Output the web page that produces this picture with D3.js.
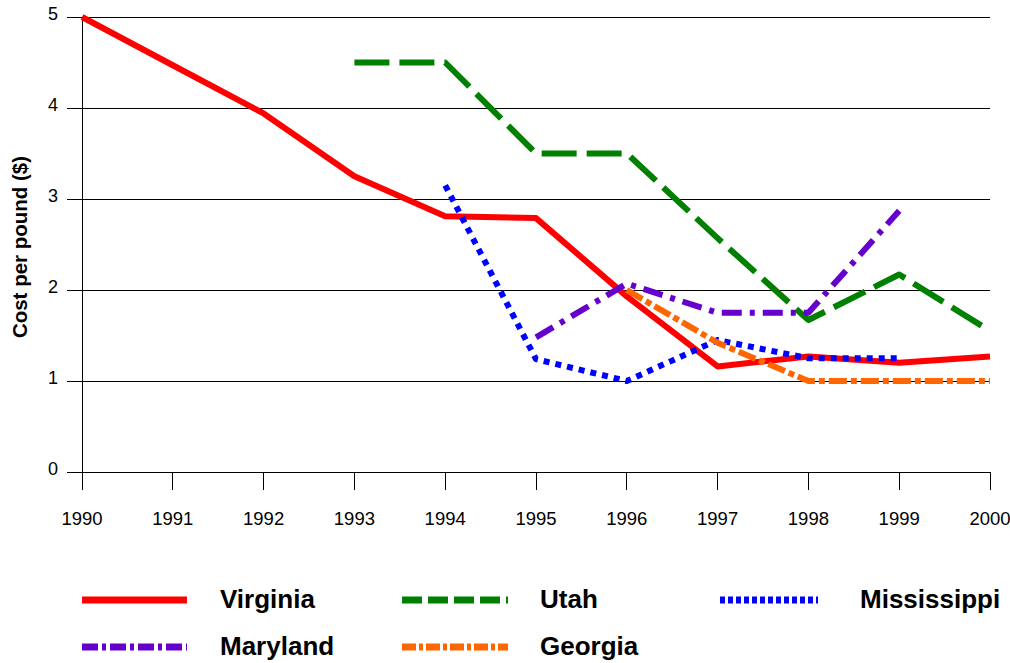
<!DOCTYPE html>
<html>
<head>
<meta charset="utf-8">
<script src="https://cdn.jsdelivr.net/npm/d3@7"></script>
<style>
  body { margin: 0; background: #fff; }
  text { font-family: Arial, "Liberation Sans", sans-serif; }
</style>
</head>
<body>
<svg id="chart" width="1010" height="663"></svg>
<script>
const years = [1990, 1991, 1992, 1993, 1994, 1995, 1996, 1997, 1998, 1999, 2000]
const yTicks = [0, 1, 2, 3, 4, 5]

const virginia = [5.0, 4.47, 3.94, 3.25, 2.81, 2.79, 1.93, 1.16, 1.27, 1.2, 1.27]
const utah = [null, null, null, 4.5, 4.5, 3.5, 3.5, 2.57, 1.67, 2.17, 1.55]
const mississippi = [null, null, null, null, 3.15, 1.24, 1.0, 1.45, 1.25, 1.25, null]
const maryland = [null, null, null, null, null, 1.48, 2.07, 1.75, 1.75, 2.87, null]
const georgia = [null, null, null, null, null, null, 2.0, 1.42, 1.0, 1.0, 1.0]

const seriesNames = ['Virginia', 'Utah', 'Mississippi', 'Maryland', 'Georgia']
const seriesValues = [virginia, utah, mississippi, maryland, georgia]
const seriesColors = ['#ff0000', '#008000', '#0000ff', '#6600cc', '#ff6600']
const seriesDash = [null, '35,10', '6,6', '20,8,5,8', '18,4,6,4']
const legendDash = [null, '20,6', '5,3', '16,4,4,4', '14,3,4,3']

const margin = {top: 17, right: 20, bottom: 191, left: 82}
const w = 990 - margin.left
const h = 472 - margin.top

const svg = d3.select('#chart')
const g = svg.append('g')
    .attr('transform', `translate(${margin.left}, ${margin.top})`)

const x = d3.scaleLinear().domain([1990, 2000]).range([0, w])
const y = d3.scaleLinear().domain([0, 5]).range([h, 0])

// gridlines + y ticks
g.selectAll('.grid')
    .data(yTicks)
    .enter()
    .append('line')
    .attr('x1', -15)
    .attr('x2', w)
    .attr('y1', d => y(d))
    .attr('y2', d => y(d))
    .attr('stroke', '#000')
    .attr('stroke-width', 1)
    .attr('shape-rendering', 'crispEdges')

g.selectAll('.ylab')
    .data(yTicks)
    .enter()
    .append('text')
    .attr('x', -24)
    .attr('y', d => y(d) + 3)
    .attr('text-anchor', 'end')
    .style('font-size', '18px')
    .text(d => d)

g.append('line')
    .attr('x1', 0).attr('x2', 0)
    .attr('y1', 0).attr('y2', h)
    .attr('stroke', '#000')
    .attr('shape-rendering', 'crispEdges')

// x ticks
g.selectAll('.xtick')
    .data(years)
    .enter()
    .append('line')
    .attr('x1', d => x(d))
    .attr('x2', d => x(d))
    .attr('y1', h)
    .attr('y2', h + 18)
    .attr('stroke', '#000')
    .attr('shape-rendering', 'crispEdges')

g.selectAll('.xlab')
    .data(years)
    .enter()
    .append('text')
    .attr('x', d => x(d))
    .attr('y', h + 53)
    .attr('text-anchor', 'middle')
    .style('font-size', '18.5px')
    .text(d => d)

svg.append('text')
    .attr('transform', `translate(27, 247) rotate(-90)`)
    .attr('text-anchor', 'middle')
    .style('font-size', '20.5px')
    .style('font-weight', 'bold')
    .text('Cost per pound ($)')

const line = d3.line()
    .defined(d => d.v !== null)
    .x(d => x(d.year))
    .y(d => y(d.v))

seriesValues.forEach((vals, i) => {
    const pts = years.map((yr, j) => ({year: yr, v: vals[j]}))
    g.append('path')
        .datum(pts)
        .attr('d', line)
        .attr('fill', 'none')
        .attr('stroke', seriesColors[i])
        .attr('stroke-width', 6)
        .attr('stroke-linejoin', 'round')
        .attr('stroke-dasharray', seriesDash[i])
})

// legend
const legendPos = [[82, 600], [402, 600], [720, 600], [82, 647], [402, 647]]
const legendLen = [105, 106, 98, 105, 106]
const legend = svg.append('g')
seriesNames.forEach((name, i) => {
    const [lx, ly] = legendPos[i]
    legend.append('line')
        .attr('x1', lx).attr('x2', lx + legendLen[i])
        .attr('y1', ly).attr('y2', ly)
        .attr('stroke', seriesColors[i])
        .attr('stroke-width', 7)
        .attr('stroke-dasharray', legendDash[i])
    legend.append('text')
        .attr('x', i === 2 ? 860 : lx + 138)
        .attr('y', ly + 8)
        .style('font-size', '26px')
        .style('font-weight', 'bold')
        .text(name)
})
</script>
</body>
</html>
